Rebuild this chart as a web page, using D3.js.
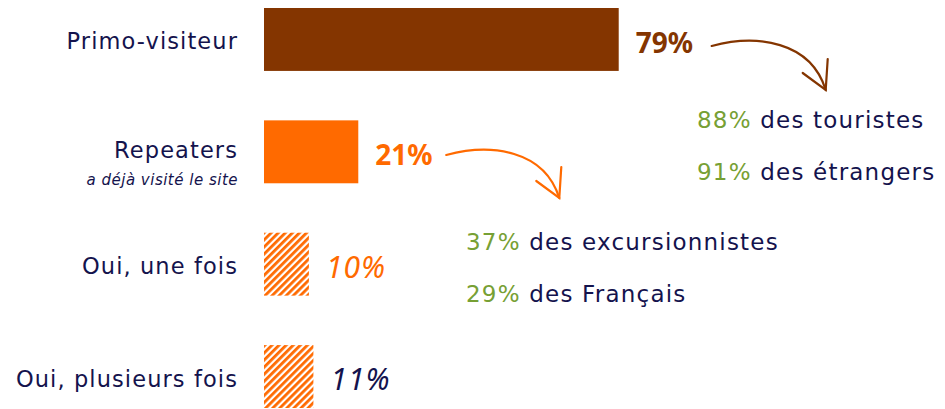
<!DOCTYPE html>
<html>
<head>
<meta charset="utf-8">
<script src="https://cdn.jsdelivr.net/npm/d3@7"></script>
<style>
  body { margin: 0; background: #fff; }
  svg { display: block; }
</style>
</head>
<body>
<script>
// data
var categories = ["Primo-visiteur", "Repeaters", "Oui, une fois", "Oui, plusieurs fois"];
var subLabels = ["", "a déjà visité le site", "", ""];
var values = [79, 21, 10, 11];
var valueLabels = ["79%", "21%", "10%", "11%"];
var detailsPrimo = [["88%", " des touristes"], ["91%", " des étrangers"]];
var detailsRepeat = [["37%", " des excursionnistes"], ["29%", " des Français"]];

var w = 945, h = 409;
var navy = "#14134d", brown = "#843500", orange = "#ff6a00", green = "#77a034";
var barFill = [brown, orange, "url(#hatch)", "url(#hatch)"];
var labelColor = [brown, orange, orange, navy];
var labelWeight = ["bold", "bold", "normal", "normal"];
var labelStyle = ["normal", "normal", "italic", "italic"];
var labelSize = [28, 28, 30, 30];
var font = "'DejaVu Sans', sans-serif";
var numFont = "'Noto Sans', sans-serif";

var svg = d3.select("body").append("svg")
    .attr("width", w)
    .attr("height", h);

// hatch pattern for the two sub-bars
var defs = svg.append("defs");
var pat = defs.append("pattern")
    .attr("id", "hatch")
    .attr("patternUnits", "userSpaceOnUse")
    .attr("width", 5)
    .attr("height", 5)
    .attr("patternTransform", "rotate(45)");
pat.append("rect").attr("width", 5).attr("height", 5).attr("fill", "#fff");
pat.append("rect").attr("width", 2.8).attr("height", 5).attr("fill", orange);

var x = d3.scaleLinear().domain([0, 100]).range([264, 264 + 449]);
var y = d3.scaleBand().domain(categories).range([8, 408]).paddingInner(0.44).paddingOuter(0);

// bars
svg.selectAll("rect.bar")
    .data(values)
    .enter()
    .append("rect")
    .attr("class", "bar")
    .attr("x", x(0))
    .attr("y", function(d, i) { return y(categories[i]); })
    .attr("width", function(d) { return x(d) - x(0); })
    .attr("height", y.bandwidth())
    .attr("fill", function(d, i) { return barFill[i]; });

// category labels
svg.selectAll("text.cat")
    .data(categories)
    .enter()
    .append("text")
    .attr("class", "cat")
    .attr("x", 238)
    .attr("y", function(d, i) { return y(d) + y.bandwidth() / 2 + (subLabels[i] ? 6 : 10); })
    .attr("text-anchor", "end")
    .attr("font-family", font)
    .attr("font-size", 22.5)
    .attr("letter-spacing", 1.1)
    .attr("fill", navy)
    .text(function(d) { return d; });

svg.selectAll("text.sub")
    .data(subLabels)
    .enter()
    .append("text")
    .attr("class", "sub")
    .attr("x", 238)
    .attr("y", function(d, i) { return y(categories[i]) + y.bandwidth() / 2 + 33; })
    .attr("text-anchor", "end")
    .attr("font-family", font)
    .attr("font-style", "italic")
    .attr("font-size", 15)
    .attr("letter-spacing", 0.5)
    .attr("fill", navy)
    .text(function(d) { return d; });

// value labels
svg.selectAll("text.val")
    .data(values)
    .enter()
    .append("text")
    .attr("class", "val")
    .attr("x", function(d) { return x(d) + 17; })
    .attr("y", function(d, i) { return y(categories[i]) + y.bandwidth() / 2 + 13.5; })
    .attr("font-family", numFont)
    .attr("font-size", function(d, i) { return labelSize[i]; })
    .attr("font-weight", function(d, i) { return labelWeight[i]; })
    .attr("font-style", function(d, i) { return labelStyle[i]; })
    .attr("letter-spacing", function(d, i) { return labelStyle[i] == "italic" ? 1 : 0; })
    .attr("fill", function(d, i) { return labelColor[i]; })
    .text(function(d, i) { return valueLabels[i]; });

// detail blocks
function details(rows, x0, y0) {
    rows.forEach(function(r, i) {
        var t = svg.append("text")
            .attr("x", x0)
            .attr("y", y0 + i * 52)
            .attr("font-family", font)
            .attr("font-size", 23)
            .attr("letter-spacing", 1.2);
        t.append("tspan").attr("fill", green).text(r[0]);
        t.append("tspan").attr("fill", navy).text(r[1]);
    });
}
details(detailsPrimo, 697, 128);
details(detailsRepeat, 466, 250);

// curved arrows
function arrow(x0, y0, x1, y1, color) {
    var g = svg.append("g")
        .attr("fill", "none")
        .attr("stroke", color)
        .attr("stroke-width", 2.2)
        .attr("stroke-linecap", "round");
    g.append("path")
        .attr("d", "M" + x0 + "," + y0 +
            " C" + (x0 + 45) + "," + (y0 - 12) + " " + (x1 - 15) + "," + (y0 - 5) + " " + x1 + "," + y1);
    g.append("path")
        .attr("d", "M" + (x1 - 23) + "," + (y1 - 17) + " L" + x1 + "," + y1 + " L" + (x1 + 2) + "," + (y1 - 31));
}
arrow(x(79) + 93, 46, x(79) + 207, 90, brown);
arrow(x(21) + 88, 155, x(21) + 201, 198, orange);
</script>
</body>
</html>
